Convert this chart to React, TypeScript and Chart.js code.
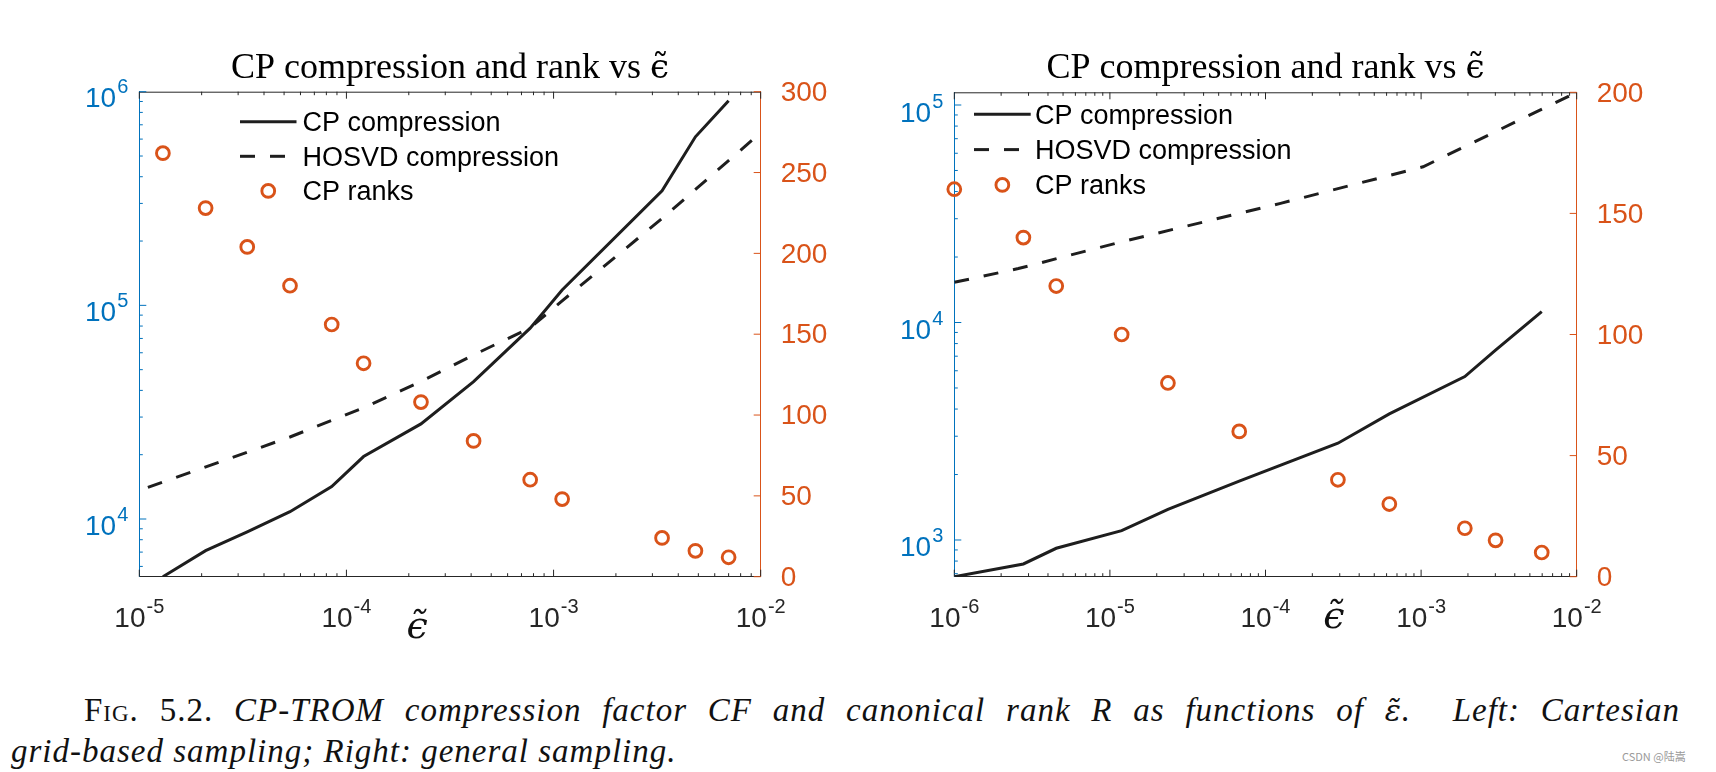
import React, { useEffect, useRef } from 'react';
import { Chart, registerables } from 'chart.js';

Chart.register(...registerables);

// ---------------- Left panel data (Cartesian grid-based sampling) ----------------
const epsCpLeft = [1.3e-5, 2.09e-5, 3.32e-5, 5.34e-5, 8.49e-5, 1.21e-4, 2.29e-4, 4.11e-4, 7.71e-4, 1.1e-3, 3.34e-3, 4.84e-3, 7.0e-3];
const cpCompressionLeft = [5370, 7110, 8710, 10820, 14190, 19600, 27870, 43950, 78200, 118000, 344000, 615000, 907000];
const cpRanksLeft = [262, 228, 204, 180, 156, 132, 108, 84, 60, 48, 24, 16, 12];
const epsHosvdLeft = [1.1e-5, 5.34e-5, 1.21e-4, 2.29e-4, 4.11e-4, 7.71e-4, 1.1e-3, 3.34e-3, 1e-2];
const hosvdCompressionLeft = [14060, 24200, 33200, 44000, 58600, 78500, 105000, 255000, 643000];

// ---------------- Right panel data (general sampling) ----------------
const epsCpRight = [1e-6, 2.78e-6, 4.52e-6, 1.19e-5, 2.36e-5, 6.78e-5, 2.92e-4, 6.25e-4, 1.91e-3, 3.01e-3, 5.96e-3];
const cpCompressionRight = [678, 776, 916, 1104, 1384, 1867, 2786, 3800, 5640, 7460, 11220];
const cpRanksRight = [160, 140, 120, 100, 80, 60, 40, 30, 20, 15, 10];
const epsHosvdRight = [1e-6, 2.58e-6, 1.19e-5, 1.25e-4, 1.03e-3, 1e-2];
const hosvdCompressionRight = [15300, 17700, 23500, 35300, 52000, 114400];

// ---------------- Axes: ranges, tick values and tick labels ----------------
const xRangeLeft = [1e-5, 1e-2];
const xTickValuesLeft = [1e-5, 1e-4, 1e-3, 1e-2];
const xTickLabelsLeft = ['10⁻⁵', '10⁻⁴', '10⁻³', '10⁻²'];
const yRangeLeft = [5370, 1e6];
const yTickValuesLeft = [1e4, 1e5, 1e6];
const yTickLabelsLeft = ['10⁴', '10⁵', '10⁶'];
const rankRangeLeft = [0, 300];
const rankTickValuesLeft = [0, 50, 100, 150, 200, 250, 300];
const rankTickLabelsLeft = ['0', '50', '100', '150', '200', '250', '300'];

const xRangeRight = [1e-6, 1e-2];
const xTickValuesRight = [1e-6, 1e-5, 1e-4, 1e-3, 1e-2];
const xTickLabelsRight = ['10⁻⁶', '10⁻⁵', '10⁻⁴', '10⁻³', '10⁻²'];
const yRangeRight = [678, 114400];
const yTickValuesRight = [1e3, 1e4, 1e5];
const yTickLabelsRight = ['10³', '10⁴', '10⁵'];
const rankRangeRight = [0, 200];
const rankTickValuesRight = [0, 50, 100, 150, 200];
const rankTickLabelsRight = ['0', '50', '100', '150', '200'];

const seriesLabels = ['CP compression', 'HOSVD compression', 'CP ranks'];
const titleMain = 'CP compression and rank vs ';
const titleSymbol = 'ϵ̃';
const xLabelText = 'ϵ̃';

// ---------------- Styles ----------------
const BLUE = '#0072BD';
const ORANGE = '#D95319';
const AX = '#262626';
const LINE = '#1e1e1e';
const SANS = "'Liberation Sans', Arial, Helvetica, sans-serif";
const SERIF = "'Liberation Serif', serif";
const MATH = "'DejaVu Serif', serif";
const TICK_SIZE = 28;
const EXP_SIZE = 20;

const SUP: Record<string, string> = {
  '⁰': '0', '¹': '1', '²': '2', '³': '3', '⁴': '4', '⁵': '5', '⁶': '6', '⁷': '7', '⁸': '8', '⁹': '9', '⁻': '-',
};
function splitPower(label: string) {
  let base = '';
  let exp = '';
  for (const c of Array.from(label)) {
    if (SUP[c] !== undefined) exp += SUP[c];
    else base += c;
  }
  return { base, exp };
}

function logTickList(min: number, max: number) {
  const out: { value: number; major: boolean }[] = [];
  const lo = Math.floor(Math.log10(min));
  const hi = Math.ceil(Math.log10(max));
  for (let n = lo; n <= hi; n++) {
    for (let k = 1; k <= 9; k++) {
      const v = k * Math.pow(10, n);
      if (v >= min * (1 - 1e-9) && v <= max * (1 + 1e-9)) out.push({ value: v, major: k === 1 });
    }
  }
  return out;
}

// inward MATLAB-style tick marks and the top box edge
const matlabAxes = {
  id: 'matlabAxes',
  afterDraw(chart: any, _args: any, o: any) {
    const { ctx, chartArea: a, scales } = chart;
    const xs = scales.x, yl = scales.y, yr = scales.y1;
    ctx.save();
    ctx.lineWidth = 1;
    const seg = (x1: number, y1: number, x2: number, y2: number, c: string) => {
      ctx.strokeStyle = c;
      ctx.beginPath();
      ctx.moveTo(x1, y1);
      ctx.lineTo(x2, y2);
      ctx.stroke();
    };
    seg(a.left, a.top + 0.5, a.right, a.top + 0.5, AX);
    for (const t of logTickList(xs.min, xs.max)) {
      const p = xs.getPixelForValue(t.value);
      const L = t.major ? o.major : o.minor;
      seg(p, a.bottom, p, a.bottom - L, AX);
      seg(p, a.top, p, a.top + L, AX);
    }
    for (const t of logTickList(yl.min, yl.max)) {
      const p = yl.getPixelForValue(t.value);
      seg(a.left, p, a.left + (t.major ? o.major : o.minor), p, BLUE);
    }
    for (const t of yr.ticks) {
      const p = yr.getPixelForValue(t.value);
      seg(a.right, p, a.right - o.major, p, ORANGE);
    }
    ctx.restore();
  },
};

// power-of-ten tick labels (10 with a raised exponent) for the log axes
const powerLabels = {
  id: 'powerLabels',
  afterDraw(chart: any, _args: any, o: any) {
    const { ctx, chartArea: a, scales } = chart;
    ctx.save();
    ctx.textBaseline = 'alphabetic';
    ctx.textAlign = 'left';
    const baseFont = `${TICK_SIZE}px ${SANS}`;
    const expFont = `${EXP_SIZE}px ${SANS}`;
    const measure = (label: string) => {
      const { base, exp } = splitPower(label);
      ctx.font = baseFont;
      const wb = ctx.measureText(base).width;
      ctx.font = expFont;
      const we = ctx.measureText(exp).width;
      return { base, exp, wb, we };
    };
    const put = (m: any, x0: number, baseline: number, color: string) => {
      ctx.fillStyle = color;
      ctx.font = baseFont;
      ctx.fillText(m.base, x0, baseline);
      ctx.font = expFont;
      ctx.fillText(m.exp, x0 + m.wb + o.expGap, baseline - o.expRise);
    };
    const xs = scales.x;
    xs.ticks.forEach((t: any, i: number) => {
      const m = measure(t.label ?? o.xLabels[i]);
      const cx = xs.getPixelForValue(t.value);
      put(m, cx - (m.wb + m.we + o.expGap) / 2, a.bottom + o.xBaseline, AX);
    });
    const yl = scales.y;
    yl.ticks.forEach((t: any, i: number) => {
      const m = measure(t.label ?? o.yLabels[i]);
      const py = yl.getPixelForValue(t.value);
      put(m, a.left - o.yPad - (m.wb + m.we + o.expGap), py + o.yBaseline, BLUE);
    });
    ctx.restore();
  },
};

// title with the math symbol set in a math-capable font
const richTitle = {
  id: 'richTitle',
  afterDraw(chart: any, _args: any, o: any) {
    const { ctx, chartArea: a } = chart;
    ctx.save();
    ctx.textBaseline = 'alphabetic';
    ctx.textAlign = 'left';
    ctx.fillStyle = o.color;
    ctx.font = o.mainFont;
    const w1 = ctx.measureText(o.main).width;
    ctx.font = o.symFont;
    const w2 = ctx.measureText(o.symbol).width;
    const x0 = (a.left + a.right) / 2 - (w1 + w2) / 2;
    ctx.font = o.mainFont;
    ctx.fillText(o.main, x0, o.baseline);
    ctx.font = o.symFont;
    ctx.fillText(o.symbol, x0 + w1, o.baseline);
    ctx.restore();
  },
};

// legend drawn inside the plot area (no box), MATLAB style
const insideLegend = {
  id: 'insideLegend',
  afterDatasetsDraw(chart: any, _args: any, o: any) {
    const { ctx, chartArea: a } = chart;
    ctx.save();
    ctx.font = `${o.size}px ${SANS}`;
    ctx.textBaseline = 'middle';
    ctx.textAlign = 'left';
    chart.data.datasets.forEach((ds: any, i: number) => {
      const x0 = a.left + o.dx;
      const y = a.top + o.dy + i * o.rowGap;
      if (ds.showLine) {
        ctx.strokeStyle = ds.borderColor;
        ctx.lineWidth = ds.borderWidth;
        ctx.setLineDash(ds.borderDash || []);
        ctx.beginPath();
        ctx.moveTo(x0, y);
        ctx.lineTo(x0 + o.sample, y);
        ctx.stroke();
        ctx.setLineDash([]);
      } else {
        ctx.strokeStyle = ds.pointBorderColor;
        ctx.lineWidth = ds.pointBorderWidth;
        ctx.beginPath();
        ctx.arc(x0 + o.sample / 2, y, ds.pointRadius, 0, Math.PI * 2);
        ctx.stroke();
      }
      ctx.fillStyle = o.color;
      ctx.fillText(ds.label, x0 + o.sample + o.gap, y + o.textDy);
    });
    ctx.restore();
  },
};

// x-axis label placed at the tick-label level, as in the figure
const xLabel = {
  id: 'xLabel',
  afterDraw(chart: any, _args: any, o: any) {
    const { ctx, chartArea: a } = chart;
    ctx.save();
    ctx.font = o.font;
    ctx.fillStyle = o.color;
    ctx.textAlign = 'center';
    ctx.textBaseline = 'alphabetic';
    ctx.fillText(o.text, a.left + (a.right - a.left) * o.fx, a.bottom + o.dy);
    ctx.restore();
  },
};

type Panel = {
  epsCp: number[]; cpComp: number[]; ranks: number[]; epsHosvd: number[]; hosvdComp: number[];
  xRange: number[]; xTicks: number[]; xTickLabels: string[];
  yRange: number[]; yTicks: number[]; yTickLabels: string[];
  rRange: number[]; rTicks: number[]; rTickLabels: string[];
  leftW: number; rightW: number; bottomH: number; top: number; yBaseline: number;
  legend: { dx: number; dy: number; rowGap: number; sample: number; gap: number };
  xl: { fx: number; dy: number };
};

const leftPanel: Panel = {
  epsCp: epsCpLeft, cpComp: cpCompressionLeft, ranks: cpRanksLeft, epsHosvd: epsHosvdLeft, hosvdComp: hosvdCompressionLeft,
  xRange: xRangeLeft, xTicks: xTickValuesLeft, xTickLabels: xTickLabelsLeft,
  yRange: yRangeLeft, yTicks: yTickValuesLeft, yTickLabels: yTickLabelsLeft,
  rRange: rankRangeLeft, rTicks: rankTickValuesLeft, rTickLabels: rankTickLabelsLeft,
  leftW: 139.3, rightW: 99.3, bottomH: 103.3, top: 91.7, yBaseline: 15.5,
  legend: { dx: 100.7, dy: 30, rowGap: 34.6, sample: 56.5, gap: 6 },
  xl: { fx: 0.447, dy: 61 },
};

const rightPanel: Panel = {
  epsCp: epsCpRight, cpComp: cpCompressionRight, ranks: cpRanksRight, epsHosvd: epsHosvdRight, hosvdComp: hosvdCompressionRight,
  xRange: xRangeRight, xTicks: xTickValuesRight, xTickLabels: xTickLabelsRight,
  yRange: yRangeRight, yTicks: yTickValuesRight, yTickLabels: yTickLabelsRight,
  rRange: rankRangeRight, rTicks: rankTickValuesRight, rTickLabels: rankTickLabelsRight,
  leftW: 94.3, rightW: 139.3, bottomH: 103.3, top: 92.3, yBaseline: 16.5,
  legend: { dx: 19.7, dy: 22, rowGap: 35.3, sample: 56.7, gap: 4.3 },
  xl: { fx: 0.61, dy: 51.5 },
};

function buildConfig(p: Panel): any {
  const pts = (xs: number[], ys: number[]) => xs.map((x, i) => ({ x, y: ys[i] }));
  const tickFont = { family: SANS, size: TICK_SIZE };
  return {
    type: 'scatter',
    data: {
      datasets: [
        {
          label: seriesLabels[0], data: pts(p.epsCp, p.cpComp), yAxisID: 'y', showLine: true,
          borderColor: LINE, backgroundColor: LINE, borderWidth: 3, pointRadius: 0, pointHoverRadius: 0,
        },
        {
          label: seriesLabels[1], data: pts(p.epsHosvd, p.hosvdComp), yAxisID: 'y', showLine: true,
          borderColor: LINE, backgroundColor: LINE, borderWidth: 3, borderDash: [15, 15], pointRadius: 0, pointHoverRadius: 0,
        },
        {
          label: seriesLabels[2], data: pts(p.epsCp, p.ranks), yAxisID: 'y1', showLine: false, clip: false,
          borderColor: ORANGE, backgroundColor: 'rgba(0,0,0,0)', pointBorderColor: ORANGE,
          pointBackgroundColor: 'rgba(0,0,0,0)', pointRadius: 6.4, pointHoverRadius: 6.4, pointBorderWidth: 2.9, pointStyle: 'circle',
        },
      ],
    },
    options: {
      responsive: false,
      animation: false,
      devicePixelRatio: 1,
      events: [],
      layout: { padding: { top: p.top, left: 0, right: 0, bottom: 0 } },
      scales: {
        x: {
          type: 'logarithmic', position: 'bottom', min: p.xRange[0], max: p.xRange[1],
          afterBuildTicks: (s: any) => { s.ticks = p.xTicks.map((v) => ({ value: v })); },
          afterFit: (s: any) => { s.height = p.bottomH; },
          grid: { display: false },
          border: { display: true, color: AX, width: 1 },
          ticks: {
            display: false, autoSkip: false, maxRotation: 0, minRotation: 0, color: AX, font: tickFont,
            callback: (_v: any, i: number) => p.xTickLabels[i],
          },
        },
        y: {
          type: 'logarithmic', position: 'left', min: p.yRange[0], max: p.yRange[1],
          afterBuildTicks: (s: any) => { s.ticks = p.yTicks.map((v) => ({ value: v })); },
          afterFit: (s: any) => { s.width = p.leftW; },
          grid: { display: false },
          border: { display: true, color: BLUE, width: 1 },
          ticks: {
            display: false, autoSkip: false, color: BLUE, font: tickFont,
            callback: (_v: any, i: number) => p.yTickLabels[i],
          },
        },
        y1: {
          type: 'linear', position: 'right', min: p.rRange[0], max: p.rRange[1],
          afterBuildTicks: (s: any) => { s.ticks = p.rTicks.map((v) => ({ value: v })); },
          afterFit: (s: any) => { s.width = p.rightW; },
          grid: { display: false },
          border: { display: true, color: ORANGE, width: 1 },
          ticks: {
            autoSkip: false, padding: 12, labelOffset: 1.5, color: ORANGE, font: tickFont,
            callback: (_v: any, i: number) => p.rTickLabels[i],
          },
        },
      },
      plugins: {
        legend: { display: false },
        tooltip: { enabled: false },
        title: { display: false },
        matlabAxes: { major: 7, minor: 3.5 },
        powerLabels: {
          xLabels: p.xTickLabels, yLabels: p.yTickLabels,
          xBaseline: 50.3, yBaseline: p.yBaseline, yPad: 11, expRise: 14, expGap: 1,
        },
        richTitle: {
          main: titleMain, symbol: titleSymbol, color: '#000', baseline: 77.7,
          mainFont: `36px ${SERIF}`, symFont: `34px ${MATH}`,
        },
        insideLegend: { ...p.legend, size: 27, color: '#000', textDy: 2 },
        xLabel: { text: xLabelText, font: `italic 38px ${MATH}`, color: '#111', fx: p.xl.fx, dy: p.xl.dy },
      },
    },
    plugins: [matlabAxes, powerLabels, richTitle, insideLegend, xLabel],
  };
}

function ChartPanel({ panel, left, width, height }: { panel: Panel; left: number; width: number; height: number }) {
  const ref = useRef<HTMLCanvasElement>(null);
  useEffect(() => {
    if (!ref.current) return;
    const chart = new Chart(ref.current, buildConfig(panel));
    return () => chart.destroy();
  }, [panel]);
  return (
    <canvas
      ref={ref}
      width={width}
      height={height}
      style={{ position: 'absolute', left, top: 0, width, height }}
    />
  );
}

export default function App() {
  return (
    <div style={{ position: 'absolute', left: 0, top: 0, width: 1716, height: 772, background: '#fff', overflow: 'hidden' }}>
      <ChartPanel panel={leftPanel} left={0} width={860} height={680} />
      <ChartPanel panel={rightPanel} left={860} width={856} height={680} />
      <div
        style={{
          position: 'absolute', left: 11, top: 690, width: 1669,
          fontFamily: "'Liberation Serif', 'DejaVu Serif', serif", fontSize: 33, lineHeight: '40px',
          letterSpacing: '1px', color: '#111',
        }}
      >
        <div style={{ textIndent: 73, textAlign: 'justify', textAlignLast: 'justify' as any }}>
          <span style={{ fontVariant: 'small-caps' }}>Fig. 5.2.</span>{'  '}
          <i>
            CP-TROM compression factor CF and canonical rank R as functions of{' '}
            <span style={{ fontFamily: "'DejaVu Serif', serif", fontSize: 30 }}>ε̃</span>.&nbsp; Left: Cartesian
          </i>
        </div>
        <div>
          <i>grid-based sampling; Right: general sampling.</i>
        </div>
      </div>
      <div
        style={{
          position: 'absolute', left: 1622, top: 748, fontSize: 11, color: '#9a9a9a',
          fontFamily: "'Noto Sans CJK SC', 'Noto Sans', sans-serif", whiteSpace: 'nowrap',
        }}
      >
        CSDN @陆嵩
      </div>
    </div>
  );
}
